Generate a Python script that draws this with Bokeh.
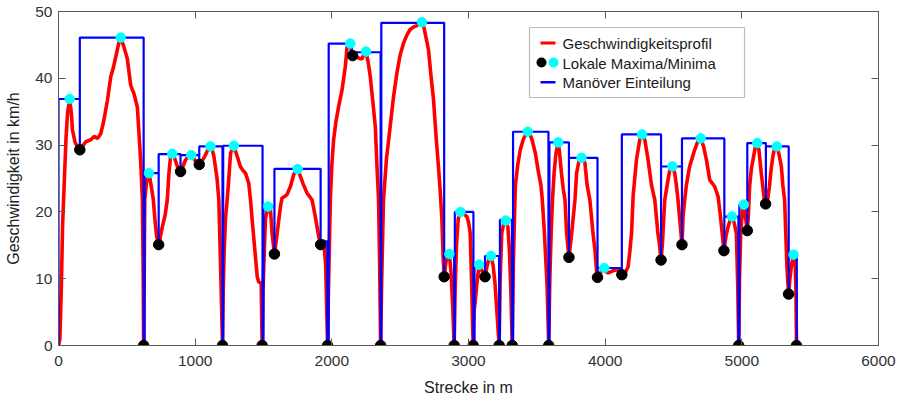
from bokeh.plotting import figure
from bokeh.models import LinearAxis, FixedTicker, BoxAnnotation, Label, Range1d
from bokeh.embed import file_html
from bokeh.resources import INLINE

# ---------------- data ----------------
x_ticks = [0, 1000, 2000, 3000, 4000, 5000, 6000]
y_ticks = [0, 10, 20, 30, 40, 50]

# speed profile (Strecke in m, Geschwindigkeit in km/h)
speed_x = [0, 10, 20, 30, 41, 55, 66, 82, 95, 102, 120, 140, 156, 175, 200, 236, 260, 285, 309, 330,
           358, 382, 400, 419, 440, 455, 479, 504, 528, 540, 552, 577, 589, 601, 614, 620, 623,
           627, 631, 645, 662, 679, 694, 705, 718, 733, 745, 760, 780, 796, 808, 820, 833, 850, 870,
           893, 910, 930, 950, 971, 990, 1010, 1030, 1050, 1070, 1090, 1112, 1125, 1137, 1150, 1161,
           1173, 1186, 1200,
           1205, 1212, 1222, 1234, 1242, 1259, 1283, 1308, 1331, 1350, 1368, 1392, 1405, 1417, 1441,
           1454, 1465, 1483, 1490,
           1496, 1502, 1514, 1534, 1551, 1563, 1580, 1600, 1624, 1636, 1648, 1672, 1697, 1721, 1733,
           1750, 1770, 1790, 1819, 1855, 1879, 1904, 1918, 1940, 1955, 1969,
           1975, 1989, 2000, 2013, 2030, 2050, 2075, 2099, 2111, 2135, 2145, 2152, 2175, 2200, 2220,
           2235, 2250, 2265, 2281, 2300, 2318, 2330, 2342, 2350, 2357,
           2365, 2378, 2400, 2427, 2450, 2476, 2500, 2525, 2550, 2573, 2600, 2622, 2640, 2659, 2675,
           2690, 2707, 2725, 2744, 2762, 2780, 2795, 2805, 2815, 2822, 2835, 2848, 2860, 2872, 2884, 2895,
           2902, 2912, 2925, 2941, 2960, 2988, 3000, 3012, 3022, 3034,
           3040, 3050, 3061, 3078, 3095, 3110, 3121, 3135, 3150, 3165, 3180, 3194, 3208, 3224,
           3232, 3243, 3258, 3273, 3288, 3300, 3310, 3320,
           3328, 3335, 3343, 3360, 3379, 3400, 3416, 3433, 3450, 3465, 3489, 3513, 3530, 3540, 3555,
           3565, 3575, 3587,
           3595, 3605, 3615, 3627, 3640, 3657, 3668, 3680, 3693, 3706, 3718, 3735, 3755, 3779, 3791,
           3810, 3827, 3840, 3852, 3868, 3888, 3910, 3925, 3937, 3944, 3960, 3975, 3993, 4008, 4022,
           4040, 4058, 4080, 4095, 4110, 4122, 4144, 4168, 4180, 4193, 4205, 4229, 4253, 4270, 4290,
           4314, 4339, 4363, 4385, 4399, 4409, 4419, 4436, 4460, 4473, 4492, 4509, 4521, 4533, 4546,
           4562, 4570, 4582, 4594, 4618, 4655, 4679, 4699, 4720, 4741, 4765, 4801, 4826, 4840, 4855,
           4869, 4885, 4900, 4915, 4928, 4945, 4960, 4970, 4977,
           4983, 4992, 5005, 5015, 5025, 5040, 5048, 5057, 5070, 5086, 5100, 5113, 5125, 5142, 5165,
           5174, 5190, 5202, 5215, 5227, 5240, 5256, 5270, 5289, 5300, 5313, 5330, 5342, 5352, 5362,
           5378, 5390, 5396, 5400]
speed_v = [0, 1, 8, 18, 23.8, 31, 34.8, 36.9, 34.5, 32.3, 30.5, 29.6, 29.3, 29.8, 30.5, 30.8, 31.3, 31.0, 31.7, 33.5,
           36.7, 40.2, 41.5, 43.2, 45.2, 46.1, 44.7, 42.9, 39.0, 38.3, 37.7, 35.7, 31.7, 27.7, 21.8, 10, 0,
           10, 21.8, 24.5, 25.8, 23.8, 21.8, 19, 16.3, 15.1, 16.2, 17.8, 19.5, 21.8, 25.8, 28.3, 28.7, 28, 26.8,
           26.05, 26.8, 27.8, 28.3, 28.5, 28, 27.4, 27.1, 27.6, 28.3, 29.2, 29.8, 29.3, 28.3, 26.5, 24.8,
           21.8, 11.8, 0,
           8, 14, 19, 21.8, 23.8, 28.8, 29.9, 28.3, 26.8, 26.2, 25.8, 24.3, 21.8, 18.8, 13.3,
           10.3, 9.5, 9.3, 0,
           8, 11.8, 19, 20.8, 20.3, 16.8, 13.7, 16.8, 20.8, 22.1, 22.2, 22.6, 23.8, 25.6, 26.0,
           26.4, 25.3, 24.2, 22.8, 21.8, 19.3, 16.3, 15.1, 15.8, 12, 0,
           8, 21.8, 27, 30.8, 33.5, 35.8, 38.3, 41.8, 44.6, 45.2, 43.8, 43.4, 43.3, 43.0, 42.9,
           43.6, 44.0, 42.5, 40.3, 36.5, 32.8, 27, 21.8, 12, 0,
           10, 21.8, 28, 32.8, 37, 40.8, 43.5, 45.3, 46.5, 47.3, 47.7, 47.9, 48.1, 48.4, 47.5,
           46, 44.3, 40.5, 36.8, 31.5, 26.8, 22.5, 19, 13, 10.3, 12.5, 13.4, 13.7, 11, 6, 0,
           8, 15, 19, 20.0, 19.8, 19.3, 18.5, 16.9, 10, 0,
           5, 6.8, 9.2, 12.1, 11.4, 10.6, 10.3, 11.8, 13, 13.4, 12, 9.3, 5, 0,
           10, 16.8, 18.3, 18.7, 17.8, 14, 8, 0,
           12, 18, 24, 27, 29.3, 30.8, 31.5, 32.0, 31.6, 30.8, 28.8, 25.8, 24, 21.8, 17,
           13, 9, 0,
           10, 17, 22, 26, 28.8, 30.4, 28.5, 25.8, 23.5, 21.8, 16.8, 13.2, 16.8, 21.8, 25.8,
           27.8, 28.1, 27.8, 27.3, 24, 21.8, 17, 14.3, 11.3, 10.2, 10.7, 11.2, 11.6, 11, 10.9,
           11, 11.2, 11.3, 11.4, 11, 10.6, 10.8, 11.8, 14, 16.8, 22.5, 27.8, 30.8, 31.6, 30.8,
           27.8, 24, 21.8, 17, 14.8, 12.8, 15.3, 21.8, 24.8, 26.3, 26.8, 25.8, 24, 21.8, 18.8,
           15.1, 19.3, 21.8, 24, 26.8, 29.3, 30.6, 31.0, 29.8, 27.8, 24.8, 23.8, 22.3, 20, 17,
           14.2, 16.5, 17.8, 18.8, 19.3, 18.3, 16.8, 9, 0,
           10, 17, 20.3, 21.1, 19.5, 17.2, 19.5, 23.8, 26.5, 28.3, 29.8, 30.3, 29.3, 25.8, 21.8,
           21.2, 22, 23.8, 26.5, 28.3, 29.5, 29.8, 28.8, 26.8, 24, 21.8, 11.8, 7.7, 10, 11.8,
           13.6, 12.5, 8, 0]

# local maxima
max_x = [82, 455, 662, 833, 971, 1112, 1283, 1534, 1750, 2135, 2250, 2659, 2860, 2941, 3078, 3165,
         3273, 3433, 3657, 3827, 3993, 4270, 4492, 4699, 4928, 5015, 5113, 5256, 5378]
max_v = [36.9, 46.1, 25.8, 28.7, 28.5, 29.8, 29.9, 20.8, 26.4, 45.2, 44.0, 48.4, 13.7, 20.0, 12.1, 13.4,
         18.7, 32.0, 30.4, 28.1, 11.6, 31.6, 26.8, 31.0, 19.3, 21.1, 30.3, 29.8, 13.6]

# local minima
min_x = [156, 623, 733, 893, 1030, 1200, 1490, 1580, 1918, 1969, 2152, 2357, 2822, 2895, 3034, 3121,
         3224, 3320, 3587, 3735, 3944, 4122, 4409, 4562, 4869, 4977, 5040, 5174, 5342, 5400]
min_v = [29.3, 0, 15.1, 26.05, 27.1, 0, 0, 13.7, 15.1, 0, 43.4, 0, 10.3, 0, 0, 10.3,
         0, 0, 0, 13.2, 10.2, 10.6, 12.8, 15.1, 14.2, 0, 17.2, 21.2, 7.7, 0]

# manoeuvre segments: start, end, level, value at start boundary, value at end boundary
seg_start = [0, 156, 630, 733, 893, 1030, 1205, 1500, 1580, 1918, 1977, 2145, 2362, 2822, 2900,
             3044, 3121, 3230, 3326, 3592, 3735, 3944, 4122, 4409, 4562, 4872, 4982, 5040, 5176, 5343]
seg_end = [156, 623, 733, 893, 1030, 1200, 1493, 1580, 1918, 1967, 2145, 2357, 2822, 2895, 3036,
           3121, 3224, 3318, 3585, 3735, 3944, 4122, 4409, 4562, 4872, 4975, 5040, 5176, 5343, 5402]
seg_level = [36.9, 46.1, 25.8, 28.65, 28.5, 29.8, 29.9, 20.8, 26.45, 15.6, 45.2, 43.9, 48.3, 13.7, 20.0,
             12.1, 13.4, 18.8, 32.0, 30.4, 28.1, 11.6, 31.6, 26.8, 31.0, 19.3, 21.1, 30.3, 29.8, 13.6]
seg_floor_start = [0, 29.3, 0, 15.1, 26.05, 27.1, 0, 0, 13.7, 15.1, 0, 43.4, 0, 10.3, 0,
                   0, 10.3, 0, 0, 0, 13.2, 10.2, 10.6, 12.8, 15.1, 14.2, 0, 17.2, 21.2, 7.7]
seg_floor_end = [29.3, 0, 15.1, 26.05, 27.1, 0, 0, 13.7, 15.1, 0, 43.4, 0, 10.3, 0, 0,
                 10.3, 0, 0, 0, 13.2, 10.2, 10.6, 12.8, 15.1, 14.2, 0, 17.2, 21.2, 7.7, 0]

# build step path
step_x, step_v = [], []
for s, e, lv, fs, fe in zip(seg_start, seg_end, seg_level, seg_floor_start, seg_floor_end):
    step_x += [s, s, e, e]
    step_v += [fs, lv, lv, fe]

# ---------------- style ----------------
FONT = "Liberation Sans"
AX = "#595959"
TXT = "#333333"

p = figure(width=902, height=398, x_range=Range1d(0, 6000), y_range=Range1d(0, 50),
           output_backend="svg", toolbar_location=None,
           min_border_left=58, min_border_right=24, min_border_top=11, min_border_bottom=52)
p.background_fill_color = "white"
p.border_fill_color = "white"
p.outline_line_color = AX
p.outline_line_width = 1
p.grid.visible = False

for ax, ticks in ((p.xaxis[0], x_ticks), (p.yaxis[0], y_ticks)):
    ax.ticker = FixedTicker(ticks=ticks)
    ax.major_tick_in = 7
    ax.major_tick_out = 0
    ax.minor_tick_line_color = None
    ax.axis_line_color = AX
    ax.major_tick_line_color = AX
    ax.major_label_text_font = FONT
    ax.major_label_text_font_size = "15.5px"
    ax.major_label_text_color = TXT
    ax.axis_label_text_font = FONT
    ax.axis_label_text_font_size = "16px"
    ax.axis_label_text_font_style = "normal"
    ax.axis_label_text_color = "#222222"

p.xaxis.axis_label = "Strecke in m"
p.yaxis.axis_label = "Geschwindigkeit in km/h"
p.xaxis.major_label_standoff = 10
p.xaxis.axis_label_standoff = 10
p.yaxis.major_label_standoff = 6
p.yaxis.axis_label_standoff = 10

# box-style axes: tick marks on top and right, no labels there
for loc, ticks in (("above", x_ticks), ("right", y_ticks)):
    a = LinearAxis(ticker=FixedTicker(ticks=ticks), major_tick_in=7, major_tick_out=0,
                   minor_tick_line_color=None, axis_line_color=AX, major_tick_line_color=AX,
                   major_label_text_color=None, major_label_text_font_size="1px",
                   major_label_standoff=0)
    p.add_layout(a, loc)

p.line(speed_x, speed_v, line_color="#FF0000", line_width=3.6)
p.line(step_x, step_v, line_color="#0000FF", line_width=2.2)
p.scatter(min_x, min_v, marker="circle", size=10.5, fill_color="black", line_color="black")
p.scatter(max_x, max_v, marker="circle", size=9.5, fill_color="#00FFFF", line_color="#00FFFF")

# ---------------- legend (screen units, relative to plot frame) ----------------
def sbox(left, right, bottom, top, **kw):
    b = BoxAnnotation(left=left, right=right, bottom=bottom, top=top,
                      left_units="screen", right_units="screen",
                      bottom_units="screen", top_units="screen", **kw)
    p.add_layout(b)
    return b

sbox(471, 686, 248, 318, fill_color="white", fill_alpha=1, line_color="#222222", line_width=1.2)
sbox(482, 497, 301, 304, fill_color="#FF0000", fill_alpha=1, line_color=None)
sbox(478, 488, 278, 288, fill_color="black", fill_alpha=1, line_color=None, border_radius=5)
sbox(490, 500, 278, 288, fill_color="#00FFFF", fill_alpha=1, line_color=None, border_radius=5)
sbox(482, 497, 262, 264.5, fill_color="#0000FF", fill_alpha=1, line_color=None)

for txt, yy in (("Geschwindigkeitsprofil", 302.5), ("Lokale Maxima/Minima", 282.5),
                ("Manöver Einteilung", 263.3)):
    p.add_layout(Label(x=504, y=yy, x_units="screen", y_units="screen", text=txt,
                       text_font=FONT, text_font_size="15px", text_color="#1a1a1a",
                       text_baseline="middle", text_align="left"))

open("out.html", "w").write(file_html(p, INLINE))
